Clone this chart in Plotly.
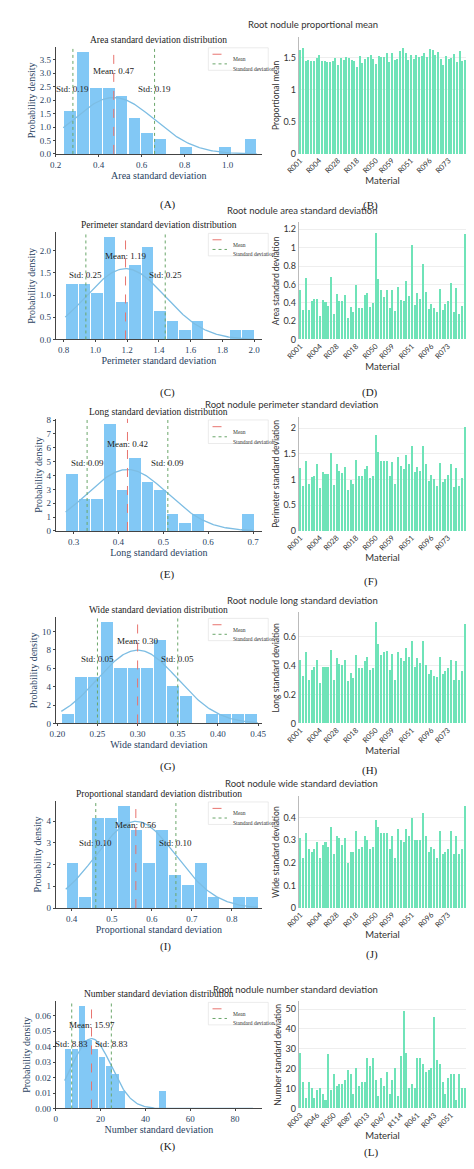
import numpy as np
import plotly.graph_objects as go
from plotly.subplots import make_subplots

# ---- histogram data (bin densities) ----
area_hist = [1.6, 3.8, 2.45, 2.45, 2.15, 1.35, 0.8, 0.55, 0, 0.27, 0, 0, 0.27, 0, 0.55]
perim_hist = [1.25, 1.25, 1.05, 2.3, 0.83, 1.67, 2.08, 0.63, 0.42, 0.21, 0.42, 0, 0, 0.21, 0.21]
long_hist = [4.1, 2.35, 2.35, 7.7, 2.95, 5.3, 3.55, 2.95, 1.2, 0.6, 1.2, 0, 0, 0, 1.2]
wide_hist = [1, 5, 5, 11, 6, 6, 6, 9, 4, 3, 0, 1, 1, 1, 1]
prop_hist = [2.1, 0.5, 4.15, 4.15, 4.7, 3.6, 2.1, 3.6, 1.55, 1.05, 2.1, 0.5, 0, 0.5, 0.5]
num_hist = [0.0385, 0.0385, 0.066, 0.044, 0.0385, 0.033, 0.0275, 0.022, 0.011, 0, 0, 0, 0, 0, 0.011]

# ---- per-material bar data ----
prop_mean = [1.62, 1.66, 1.45, 1.46, 1.45, 1.45, 1.50, 1.54, 1.45, 1.45, 1.43, 1.44, 1.45, 1.50,
             1.39, 1.50, 1.47, 1.51, 1.50, 1.46, 1.45, 1.36, 1.53, 1.42, 1.48, 1.52, 1.55, 1.49,
             1.41, 1.53, 1.52, 1.51, 1.58, 1.43, 1.58, 1.47, 1.48, 1.60, 1.65, 1.58, 1.46, 1.54,
             1.48, 1.54, 1.52, 1.53, 1.57, 1.51, 1.64, 1.63, 1.55, 1.59, 1.49, 1.39, 1.53, 1.49,
             1.50, 1.56, 1.43, 1.61, 1.45, 1.47]
area_sd = [0.54, 0.32, 0.67, 0.32, 0.41, 0.44, 0.44, 0.25, 0.43, 0.40, 0.36, 0.68, 0.27, 0.49,
           0.42, 0.42, 0.48, 0.23, 0.35, 0.30, 0.59, 0.34, 0.34, 0.48, 0.50, 0.35, 0.39, 1.16,
           0.65, 0.54, 0.46, 0.53, 0.34, 0.53, 0.31, 0.57, 0.43, 0.41, 0.63, 0.47, 1.03, 0.37,
           0.50, 0.44, 0.82, 0.51, 0.33, 0.38, 0.34, 0.30, 0.55, 0.32, 0.38, 0.41, 0.61, 0.29,
           0.56, 0.27, 0.36, 1.14]
perim_sd = [1.22, 0.88, 1.37, 0.91, 1.06, 1.07, 1.30, 0.83, 1.16, 1.12, 1.12, 1.52, 0.90, 1.30,
            1.18, 1.13, 1.24, 0.81, 1.00, 0.92, 1.39, 1.07, 1.07, 1.21, 1.27, 1.04, 1.07, 1.87,
            1.55, 1.36, 1.36, 1.37, 1.07, 1.34, 0.92, 1.44, 1.26, 1.21, 1.48, 1.30, 1.66, 1.15,
            1.24, 1.17, 1.65, 1.30, 0.97, 1.09, 1.01, 0.88, 1.32, 0.96, 1.02, 1.09, 1.30, 0.86,
            1.23, 0.88, 1.04, 2.02]
long_sd = [0.44, 0.33, 0.49, 0.30, 0.37, 0.39, 0.44, 0.28, 0.39, 0.39, 0.39, 0.51, 0.30, 0.45,
           0.41, 0.40, 0.44, 0.29, 0.35, 0.31, 0.47, 0.38, 0.38, 0.43, 0.46, 0.37, 0.38, 0.70,
           0.55, 0.47, 0.49, 0.50, 0.37, 0.48, 0.30, 0.49, 0.45, 0.43, 0.52, 0.46, 0.57, 0.39,
           0.45, 0.42, 0.57, 0.40, 0.34, 0.37, 0.33, 0.32, 0.46, 0.34, 0.36, 0.38, 0.44, 0.30,
           0.43, 0.30, 0.36, 0.69]
wide_sd = [0.31, 0.22, 0.33, 0.26, 0.25, 0.26, 0.29, 0.22, 0.28, 0.29, 0.27, 0.36, 0.24, 0.32,
           0.31, 0.28, 0.31, 0.20, 0.25, 0.25, 0.34, 0.26, 0.27, 0.32, 0.30, 0.26, 0.27, 0.39,
           0.36, 0.33, 0.33, 0.33, 0.26, 0.32, 0.22, 0.35, 0.30, 0.29, 0.35, 0.32, 0.40, 0.30,
           0.30, 0.30, 0.42, 0.32, 0.25, 0.27, 0.26, 0.22, 0.34, 0.24, 0.25, 0.26, 0.34, 0.24,
           0.32, 0.24, 0.26, 0.45]
num_sd = [28, 13, 5, 13, 10, 5, 9, 10, 7, 4, 27, 9, 17, 11, 12, 12, 14, 19, 17, 7, 20, 11, 13,
          13, 25, 21, 25, 14, 6, 15, 11, 18, 7, 14, 20, 6, 26, 49, 28, 10, 12, 10, 25, 25, 22, 18,
          19, 20, 46, 24, 22, 13, 7, 15, 17, 17, 4, 17, 10, 10]

ticks_a = ["R001", "R004", "R028", "R018", "R050", "R059", "R051", "R096", "R073"]
ticks_b = ["R003", "R046", "R050", "R087", "R013", "R067", "R114", "R061", "R043", "R051"]

hists = [
    # data, bin start, bin width, mean, std, title, xlabel, xticks, xrange, yticks, curve end
    (area_hist, 0.235, 0.06, 0.47, 0.19, "Area standard deviation distribution",
     "Area standard deviation", [0.2, 0.4, 0.6, 0.8, 1.0], [0.2, 1.16], [0, 0.5, 1, 1.5, 2, 2.5, 3, 3.5], None),
    (perim_hist, 0.81, 0.0793, 1.19, 0.25, "Perimeter standard deviation distribution",
     "Perimeter standard deviation", [0.8, 1.0, 1.2, 1.4, 1.6, 1.8, 2.0], [0.75, 2.05], [0, 0.5, 1, 1.5, 2], None),
    (long_hist, 0.282, 0.028, 0.42, 0.09, "Long standard deviation distribution",
     "Long standard deviation", [0.3, 0.4, 0.5, 0.6, 0.7], [0.26, 0.72], list(range(0, 9)), None),
    (wide_hist, 0.205, 0.0163, 0.30, 0.05, "Wide standard deviation distribution",
     "Wide standard deviation", [0.20, 0.25, 0.30, 0.35, 0.40, 0.45], [0.198, 0.455], [0, 2, 4, 6, 8, 10], None),
    (prop_hist, 0.385, 0.032, 0.56, 0.10, "Proportional standard deviation distribution",
     "Proportional standard deviation", [0.4, 0.5, 0.6, 0.7, 0.8], [0.36, 0.875], [0, 1, 2, 3, 4], None),
    (num_hist, 4, 3, 15.97, 8.83, "Number standard deviation distribution",
     "Number standard deviation", [0, 20, 40, 60, 80], [0, 92], [0, 0.01, 0.02, 0.03, 0.04, 0.05, 0.06], 88),
]
bars = [
    (prop_mean, "Root nodule proportional mean", "Proportional mean", ticks_a, [0, 0.5, 1, 1.5], ["0", "0.5", "1", "1.5"]),
    (area_sd, "Root nodule area standard deviation", "Area standard deviation", ticks_a,
     [0, 0.2, 0.4, 0.6, 0.8, 1, 1.2], ["0", "0.2", "0.4", "0.6", "0.8", "1", "1.2"]),
    (perim_sd, "Root nodule perimeter standard deviation", "Perimeter standard deviation", ticks_a,
     [0, 0.5, 1, 1.5, 2], ["0", "0.5", "1", "1.5", "2"]),
    (long_sd, "Root nodule long standard deviation", "Long standard deviation", ticks_a,
     [0, 0.2, 0.4, 0.6], ["0", "0.2", "0.4", "0.6"]),
    (wide_sd, "Root nodule wide standard deviation", "Wide standard deviation", ticks_a,
     [0, 0.1, 0.2, 0.3, 0.4], ["0", "0.1", "0.2", "0.3", "0.4"]),
    (num_sd, "Root nodule number standard deviation", "Number standard deviation", ticks_b,
     [0, 10, 20, 30, 40, 50], ["0", "10", "20", "30", "40", "50"]),
]
left_rows = [(35, 143), (222, 330), (410, 523), (610, 717), (795, 903), (997, 1105)]
right_rows = [(25, 143), (212, 330), (408, 523), (605, 717), (790, 903), (997, 1105)]
left_labels = [("(A)", 185), ("(C)", 375), ("(E)", 567), ("(G)", 760), ("(I)", 950), ("(K)", 1152)]
right_labels = [("(B)", 186), ("(D)", 375), ("(F)", 574), ("(H)", 764), ("(J)", 958), ("(L)", 1158)]

W, H = 474, 1169
SERIF = "Liberation Serif"
SANS = "Lato"
HIST_C = "#82c8f5"
BAR_C = "#6fe3b8"

fig = make_subplots(rows=6, cols=2)
annos, shapes = [], []

for i, (vals, start, width, mean, std, title, xlab, xt, xr, yt, cend) in enumerate(hists):
    r = i + 1
    n = 2 * i + 1
    xa, ya = f"x{n}" if n > 1 else "x", f"y{n}" if n > 1 else "y"
    centers = [start + width * (k + 0.5) for k in range(len(vals))]
    fig.add_trace(go.Bar(x=centers, y=vals, width=width * 0.92, marker_color=HIST_C,
                         marker_line_width=0, showlegend=False), row=r, col=1)
    lo = start
    hi = cend if cend else start + width * len(vals)
    cx = np.linspace(lo, hi, 200)
    cy = np.exp(-0.5 * ((cx - mean) / std) ** 2) / (std * np.sqrt(2 * np.pi))
    fig.add_trace(go.Scatter(x=cx, y=cy, mode="lines", line=dict(color="#7dbde3", width=1.3),
                             showlegend=False), row=r, col=1)
    top = max(max(vals), cy.max())
    for xv, col, dash in [(mean, "#e8746f", "dash"), (mean - std, "#6aa66a", "dot"), (mean + std, "#6aa66a", "dot")]:
        shapes.append(dict(type="line", xref=xa, yref=f"{ya} domain", x0=xv, x1=xv, y0=0, y1=1,
                           line=dict(color=col, width=1, dash=dash)))
    annos.append(dict(xref=xa, yref=f"{ya} domain", x=mean, y=0.84, text=f"Mean: {mean:.2f}",
                      showarrow=False, font=dict(family=SERIF, size=9, color="#222")))
    for xv in (mean - std, mean + std):
        annos.append(dict(xref=xa, yref=f"{ya} domain", x=xv, y=0.67, text=f"Std: {std:.2f}",
                          showarrow=False, font=dict(family=SERIF, size=9, color="#222")))
    # legend box
    shapes.append(dict(type="rect", xref=f"{xa} domain", yref=f"{ya} domain", x0=0.74, x1=1.03, y0=0.78, y1=0.99,
                       line=dict(color="#dddddd", width=0.6), fillcolor="rgba(255,255,255,0.8)"))
    for yy, col, dash, lab in [(0.93, "#e8746f", "dash", "Mean"), (0.84, "#6aa66a", "dot", "Standard deviation")]:
        shapes.append(dict(type="line", xref=f"{xa} domain", yref=f"{ya} domain", x0=0.76, x1=0.83, y0=yy, y1=yy,
                           line=dict(color=col, width=1, dash=dash)))
        annos.append(dict(xref=f"{xa} domain", yref=f"{ya} domain", x=0.85, y=yy, xanchor="left", text=lab,
                          showarrow=False, font=dict(family=SERIF, size=5.5, color="#333")))
    y0, y1 = left_rows[i]
    if cend:
        xtt = [f"{v:g}" for v in xt]
        ytt = [f"{v:.2f}" for v in yt]
    else:
        xtt = [f"{v:.2f}" if i == 3 else f"{v:.1f}" for v in xt]
        ytt = [f"{v:.1f}" if i < 2 else f"{v:g}" for v in yt]
    fig.update_xaxes(row=r, col=1, domain=[36 / W, 250 / W], range=xr, tickvals=xt, ticktext=xtt,
                     title=dict(text=xlab, font=dict(family=SERIF, size=10), standoff=0),
                     showline=True, linecolor="#444", linewidth=0.8, ticks="outside", ticklen=2,
                     tickfont=dict(family=SERIF, size=9), showgrid=False, zeroline=False)
    fig.update_yaxes(row=r, col=1, domain=[1 - y1 / H, 1 - y0 / H], range=[0, top * 1.05], tickvals=yt,
                     ticktext=ytt,
                     title=dict(text="Probability density", font=dict(family=SERIF, size=10), standoff=2),
                     showline=True, linecolor="#444", linewidth=0.8, ticks="outside", ticklen=2,
                     tickfont=dict(family=SERIF, size=9), showgrid=False, zeroline=False)
    annos.append(dict(xref=f"{xa} domain", yref=f"{ya} domain", x=0.5, y=1.0, yanchor="bottom", text=title,
                      showarrow=False, font=dict(family=SERIF, size=9.5, color="#222")))
    lab, ly = left_labels[i]
    annos.append(dict(xref="paper", yref="paper", x=142 / W, y=1 - ly / H, text=lab, showarrow=False,
                      font=dict(family=SERIF, size=11, color="#222")))

for i, (vals, title, ylab, tlabels, yt, ytt) in enumerate(bars):
    r = i + 1
    idx = list(range(len(vals)))
    fig.add_trace(go.Bar(x=idx, y=vals, marker_color=BAR_C, marker_line_width=0, width=0.55,
                         showlegend=False), row=r, col=2)
    step = len(vals) / len(tlabels)
    tv = [round(k * step) for k in range(len(tlabels))]
    y0, y1 = right_rows[i]
    fig.update_xaxes(row=r, col=2, domain=[288 / W, 462 / W], range=[-0.6, len(vals) - 0.4],
                     tickvals=tv, ticktext=tlabels, tickangle=-45,
                     tickfont=dict(family=SANS, size=7.5, color="#333"),
                     title=dict(text="Material", font=dict(family=SANS, size=9.5, color="#333"), standoff=0),
                     showline=False, showgrid=False, zeroline=False)
    fig.update_yaxes(row=r, col=2, domain=[1 - y1 / H, 1 - y0 / H], range=[0, max(vals) * 1.1],
                     tickvals=yt, ticktext=ytt, tickfont=dict(family=SANS, size=9, color="#333"),
                     title=dict(text=ylab, font=dict(family=SANS, size=8.5, color="#333"), standoff=2),
                     showline=True, linecolor="#bbb", linewidth=0.8, showgrid=True, gridcolor="#eeeeee",
                     zeroline=False)
    n = 2 * i + 2
    annos.append(dict(xref="paper", yref=f"y{n} domain", x=372 / W, y=1.04, yanchor="bottom", text=title,
                      showarrow=False, font=dict(family=SANS, size=9.5, color="#333")))
    lab, ly = right_labels[i]
    annos.append(dict(xref="paper", yref="paper", x=372 / W, y=1 - ly / H, text=lab, showarrow=False,
                      font=dict(family=SERIF, size=11, color="#222")))

fig.update_layout(width=W, height=H, margin=dict(l=0, r=0, t=0, b=0), plot_bgcolor="white",
                  paper_bgcolor="white", bargap=0, annotations=annos, shapes=shapes, showlegend=False)
fig.write_html("out.html")
